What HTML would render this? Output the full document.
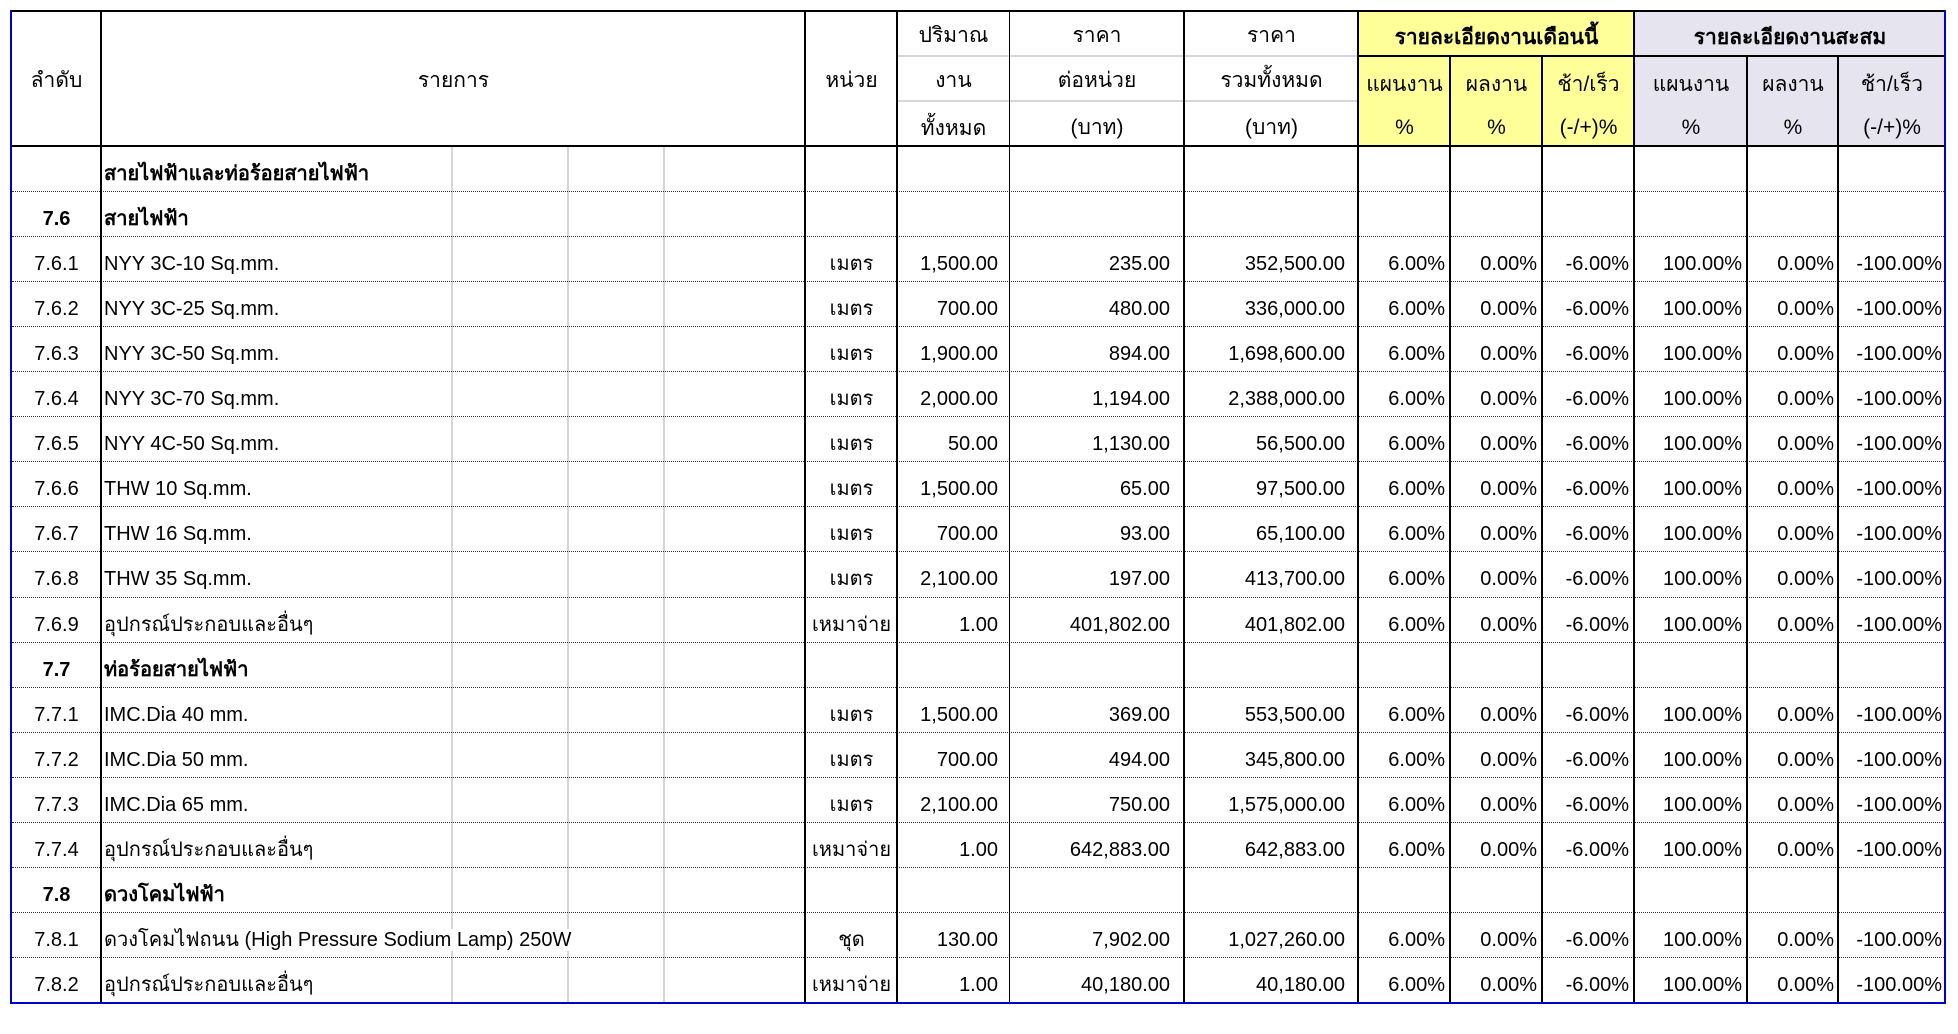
<!DOCTYPE html>
<html>
<head>
<meta charset="utf-8">
<style>
html,body{margin:0;padding:0;background:#fff;}
body{width:1958px;height:1034px;position:relative;overflow:hidden;font-family:"Liberation Sans","DejaVu Sans",sans-serif;color:#000;}
.abs{position:absolute;}
.vl{position:absolute;width:2px;background:#000;}
.hl{position:absolute;height:2px;background:#000;}
.gl{position:absolute;width:2px;background:#d6d6d6;}
.dot{position:absolute;left:12px;width:1932px;height:0;border-top:1px dotted #333;}
.r{position:absolute;left:0;width:1958px;height:45px;}
.c{position:absolute;top:15.6px;height:24px;line-height:24px;white-space:nowrap;font-size:20px;}
.b{font-weight:bold;}
.c0{left:12px;width:89px;text-align:center;}
.c1{left:104px;text-align:left;}
.c1 span{background:#fff;}
.c2{left:806px;width:91px;text-align:center;}
.c3{left:898px;width:100px;text-align:right;}
.c4{left:1010px;width:160px;text-align:right;}
.c5{left:1185px;width:160px;text-align:right;}
.c6{left:1359px;width:86px;text-align:right;}
.c7{left:1451px;width:86px;text-align:right;}
.c8{left:1543px;width:86px;text-align:right;}
.c9{left:1635px;width:107px;text-align:right;}
.c10{left:1748px;width:86px;text-align:right;}
.c11{left:1839px;width:103px;text-align:right;}
.h{position:absolute;height:24px;line-height:24px;white-space:nowrap;font-size:21px;text-align:center;}
</style>
</head>
<body>
<!-- header backgrounds -->
<div class="abs" style="left:1358px;top:11px;width:276px;height:135px;background:#ffff99;"></div>
<div class="abs" style="left:1634px;top:11px;width:311px;height:135px;background:#e5e4ef;"></div>

<!-- gray gridlines in description column -->
<div class="gl" style="left:451px;top:146px;height:857px;"></div>
<div class="gl" style="left:567px;top:146px;height:857px;"></div>
<div class="gl" style="left:663px;top:146px;height:857px;"></div>

<!-- header gray horizontal lines -->
<div class="abs" style="left:898px;top:55px;width:460px;height:2px;background:#d6d6d6;"></div>
<div class="abs" style="left:898px;top:100px;width:460px;height:2px;background:#d6d6d6;"></div>

<!-- dotted row lines -->
<div class="dot" style="top:191px;"></div>
<div class="dot" style="top:236px;"></div>
<div class="dot" style="top:281px;"></div>
<div class="dot" style="top:326px;"></div>
<div class="dot" style="top:371px;"></div>
<div class="dot" style="top:416px;"></div>
<div class="dot" style="top:461px;"></div>
<div class="dot" style="top:506px;"></div>
<div class="dot" style="top:551px;"></div>
<div class="dot" style="top:597px;"></div>
<div class="dot" style="top:642px;"></div>
<div class="dot" style="top:687px;"></div>
<div class="dot" style="top:732px;"></div>
<div class="dot" style="top:777px;"></div>
<div class="dot" style="top:822px;"></div>
<div class="dot" style="top:867px;"></div>
<div class="dot" style="top:912px;"></div>
<div class="dot" style="top:957px;"></div>

<!-- header text -->
<div class="h" style="left:12px;width:89px;top:69px;">ลำดับ</div>
<div class="h" style="left:102px;width:703px;top:69px;">รายการ</div>
<div class="h" style="left:806px;width:91px;top:69px;">หน่วย</div>

<div class="h" style="left:898px;width:111px;top:24px;">ปริมาณ</div>
<div class="h" style="left:898px;width:111px;top:69px;">งาน</div>
<div class="h" style="left:898px;width:111px;top:117px;">ทั้งหมด</div>

<div class="h" style="left:1010px;width:174px;top:24px;">ราคา</div>
<div class="h" style="left:1010px;width:174px;top:69px;">ต่อหน่วย</div>
<div class="h" style="left:1010px;width:174px;top:116px;">(บาท)</div>

<div class="h" style="left:1185px;width:173px;top:24px;">ราคา</div>
<div class="h" style="left:1185px;width:173px;top:69px;">รวมทั้งหมด</div>
<div class="h" style="left:1185px;width:173px;top:116px;">(บาท)</div>

<div class="h b" style="left:1359px;width:275px;top:26px;">รายละเอียดงานเดือนนี้</div>
<div class="h b" style="left:1635px;width:310px;top:26px;">รายละเอียดงานสะสม</div>

<div class="h" style="left:1359px;width:91px;top:73px;">แผนงาน</div>
<div class="h" style="left:1359px;width:91px;top:116px;">%</div>
<div class="h" style="left:1451px;width:91px;top:73px;">ผลงาน</div>
<div class="h" style="left:1451px;width:91px;top:116px;">%</div>
<div class="h" style="left:1543px;width:91px;top:73px;">ช้า/เร็ว</div>
<div class="h" style="left:1543px;width:91px;top:116px;">(-/+)%</div>
<div class="h" style="left:1635px;width:112px;top:73px;">แผนงาน</div>
<div class="h" style="left:1635px;width:112px;top:116px;">%</div>
<div class="h" style="left:1748px;width:90px;top:73px;">ผลงาน</div>
<div class="h" style="left:1748px;width:90px;top:116px;">%</div>
<div class="h" style="left:1839px;width:106px;top:73px;">ช้า/เร็ว</div>
<div class="h" style="left:1839px;width:106px;top:116px;">(-/+)%</div>

<!-- body rows -->
<div class="r" style="top:146px;"><div class="c c1 b"><span>สายไฟฟ้าและท่อร้อยสายไฟฟ้า</span></div></div>
<div class="r" style="top:191.1px;"><div class="c c0 b">7.6</div><div class="c c1 b"><span>สายไฟฟ้า</span></div></div>

<div class="r" style="top:236.2px;"><div class="c c0">7.6.1</div><div class="c c1"><span>NYY 3C-10 Sq.mm.</span></div><div class="c c2">เมตร</div><div class="c c3">1,500.00</div><div class="c c4">235.00</div><div class="c c5">352,500.00</div><div class="c c6">6.00%</div><div class="c c7">0.00%</div><div class="c c8">-6.00%</div><div class="c c9">100.00%</div><div class="c c10">0.00%</div><div class="c c11">-100.00%</div></div>

<div class="r" style="top:281.3px;"><div class="c c0">7.6.2</div><div class="c c1"><span>NYY 3C-25 Sq.mm.</span></div><div class="c c2">เมตร</div><div class="c c3">700.00</div><div class="c c4">480.00</div><div class="c c5">336,000.00</div><div class="c c6">6.00%</div><div class="c c7">0.00%</div><div class="c c8">-6.00%</div><div class="c c9">100.00%</div><div class="c c10">0.00%</div><div class="c c11">-100.00%</div></div>

<div class="r" style="top:326.4px;"><div class="c c0">7.6.3</div><div class="c c1"><span>NYY 3C-50 Sq.mm.</span></div><div class="c c2">เมตร</div><div class="c c3">1,900.00</div><div class="c c4">894.00</div><div class="c c5">1,698,600.00</div><div class="c c6">6.00%</div><div class="c c7">0.00%</div><div class="c c8">-6.00%</div><div class="c c9">100.00%</div><div class="c c10">0.00%</div><div class="c c11">-100.00%</div></div>

<div class="r" style="top:371.5px;"><div class="c c0">7.6.4</div><div class="c c1"><span>NYY 3C-70 Sq.mm.</span></div><div class="c c2">เมตร</div><div class="c c3">2,000.00</div><div class="c c4">1,194.00</div><div class="c c5">2,388,000.00</div><div class="c c6">6.00%</div><div class="c c7">0.00%</div><div class="c c8">-6.00%</div><div class="c c9">100.00%</div><div class="c c10">0.00%</div><div class="c c11">-100.00%</div></div>

<div class="r" style="top:416.6px;"><div class="c c0">7.6.5</div><div class="c c1"><span>NYY 4C-50 Sq.mm.</span></div><div class="c c2">เมตร</div><div class="c c3">50.00</div><div class="c c4">1,130.00</div><div class="c c5">56,500.00</div><div class="c c6">6.00%</div><div class="c c7">0.00%</div><div class="c c8">-6.00%</div><div class="c c9">100.00%</div><div class="c c10">0.00%</div><div class="c c11">-100.00%</div></div>

<div class="r" style="top:461.7px;"><div class="c c0">7.6.6</div><div class="c c1"><span>THW 10 Sq.mm.</span></div><div class="c c2">เมตร</div><div class="c c3">1,500.00</div><div class="c c4">65.00</div><div class="c c5">97,500.00</div><div class="c c6">6.00%</div><div class="c c7">0.00%</div><div class="c c8">-6.00%</div><div class="c c9">100.00%</div><div class="c c10">0.00%</div><div class="c c11">-100.00%</div></div>

<div class="r" style="top:506.8px;"><div class="c c0">7.6.7</div><div class="c c1"><span>THW 16 Sq.mm.</span></div><div class="c c2">เมตร</div><div class="c c3">700.00</div><div class="c c4">93.00</div><div class="c c5">65,100.00</div><div class="c c6">6.00%</div><div class="c c7">0.00%</div><div class="c c8">-6.00%</div><div class="c c9">100.00%</div><div class="c c10">0.00%</div><div class="c c11">-100.00%</div></div>

<div class="r" style="top:551.9px;"><div class="c c0">7.6.8</div><div class="c c1"><span>THW 35 Sq.mm.</span></div><div class="c c2">เมตร</div><div class="c c3">2,100.00</div><div class="c c4">197.00</div><div class="c c5">413,700.00</div><div class="c c6">6.00%</div><div class="c c7">0.00%</div><div class="c c8">-6.00%</div><div class="c c9">100.00%</div><div class="c c10">0.00%</div><div class="c c11">-100.00%</div></div>

<div class="r" style="top:597px;"><div class="c c0">7.6.9</div><div class="c c1"><span>อุปกรณ์ประกอบและอื่นๆ</span></div><div class="c c2">เหมาจ่าย</div><div class="c c3">1.00</div><div class="c c4">401,802.00</div><div class="c c5">401,802.00</div><div class="c c6">6.00%</div><div class="c c7">0.00%</div><div class="c c8">-6.00%</div><div class="c c9">100.00%</div><div class="c c10">0.00%</div><div class="c c11">-100.00%</div></div>

<div class="r" style="top:642.1px;"><div class="c c0 b">7.7</div><div class="c c1 b"><span>ท่อร้อยสายไฟฟ้า</span></div></div>

<div class="r" style="top:687.2px;"><div class="c c0">7.7.1</div><div class="c c1"><span>IMC.Dia 40 mm.</span></div><div class="c c2">เมตร</div><div class="c c3">1,500.00</div><div class="c c4">369.00</div><div class="c c5">553,500.00</div><div class="c c6">6.00%</div><div class="c c7">0.00%</div><div class="c c8">-6.00%</div><div class="c c9">100.00%</div><div class="c c10">0.00%</div><div class="c c11">-100.00%</div></div>

<div class="r" style="top:732.3px;"><div class="c c0">7.7.2</div><div class="c c1"><span>IMC.Dia 50 mm.</span></div><div class="c c2">เมตร</div><div class="c c3">700.00</div><div class="c c4">494.00</div><div class="c c5">345,800.00</div><div class="c c6">6.00%</div><div class="c c7">0.00%</div><div class="c c8">-6.00%</div><div class="c c9">100.00%</div><div class="c c10">0.00%</div><div class="c c11">-100.00%</div></div>

<div class="r" style="top:777.4px;"><div class="c c0">7.7.3</div><div class="c c1"><span>IMC.Dia 65 mm.</span></div><div class="c c2">เมตร</div><div class="c c3">2,100.00</div><div class="c c4">750.00</div><div class="c c5">1,575,000.00</div><div class="c c6">6.00%</div><div class="c c7">0.00%</div><div class="c c8">-6.00%</div><div class="c c9">100.00%</div><div class="c c10">0.00%</div><div class="c c11">-100.00%</div></div>

<div class="r" style="top:822.5px;"><div class="c c0">7.7.4</div><div class="c c1"><span>อุปกรณ์ประกอบและอื่นๆ</span></div><div class="c c2">เหมาจ่าย</div><div class="c c3">1.00</div><div class="c c4">642,883.00</div><div class="c c5">642,883.00</div><div class="c c6">6.00%</div><div class="c c7">0.00%</div><div class="c c8">-6.00%</div><div class="c c9">100.00%</div><div class="c c10">0.00%</div><div class="c c11">-100.00%</div></div>

<div class="r" style="top:867.6px;"><div class="c c0 b">7.8</div><div class="c c1 b"><span>ดวงโคมไฟฟ้า</span></div></div>

<div class="r" style="top:912.7px;"><div class="c c0">7.8.1</div><div class="c c1"><span>ดวงโคมไฟถนน (High Pressure Sodium Lamp) 250W</span></div><div class="c c2">ชุด</div><div class="c c3">130.00</div><div class="c c4">7,902.00</div><div class="c c5">1,027,260.00</div><div class="c c6">6.00%</div><div class="c c7">0.00%</div><div class="c c8">-6.00%</div><div class="c c9">100.00%</div><div class="c c10">0.00%</div><div class="c c11">-100.00%</div></div>

<div class="r" style="top:957.8px;"><div class="c c0">7.8.2</div><div class="c c1"><span>อุปกรณ์ประกอบและอื่นๆ</span></div><div class="c c2">เหมาจ่าย</div><div class="c c3">1.00</div><div class="c c4">40,180.00</div><div class="c c5">40,180.00</div><div class="c c6">6.00%</div><div class="c c7">0.00%</div><div class="c c8">-6.00%</div><div class="c c9">100.00%</div><div class="c c10">0.00%</div><div class="c c11">-100.00%</div></div>

<!-- vertical black lines -->
<div class="vl" style="left:100px;top:11px;height:992px;"></div>
<div class="vl" style="left:804px;top:11px;height:992px;"></div>
<div class="vl" style="left:896px;top:11px;height:992px;"></div>
<div class="vl" style="left:1009px;top:11px;height:992px;width:1px;"></div>
<div class="vl" style="left:1183px;top:11px;height:992px;"></div>
<div class="vl" style="left:1357px;top:11px;height:992px;"></div>
<div class="vl" style="left:1449px;top:56px;height:947px;"></div>
<div class="vl" style="left:1541px;top:56px;height:947px;"></div>
<div class="vl" style="left:1633px;top:11px;height:992px;"></div>
<div class="vl" style="left:1746px;top:56px;height:947px;"></div>
<div class="vl" style="left:1837px;top:56px;height:947px;"></div>

<!-- horizontal black lines -->
<div class="hl" style="left:10px;top:10px;width:1936px;"></div>
<div class="hl" style="left:1358px;top:55px;width:587px;"></div>
<div class="hl" style="left:10px;top:145px;width:1936px;"></div>

<!-- blue outer borders -->
<div class="abs" style="left:10px;top:10px;width:2px;height:994px;background:#0000cc;"></div>
<div class="abs" style="left:1944px;top:10px;width:2px;height:994px;background:#0000cc;"></div>
<div class="abs" style="left:10px;top:1002px;width:1936px;height:2px;background:#0000cc;"></div>
</body>
</html>
